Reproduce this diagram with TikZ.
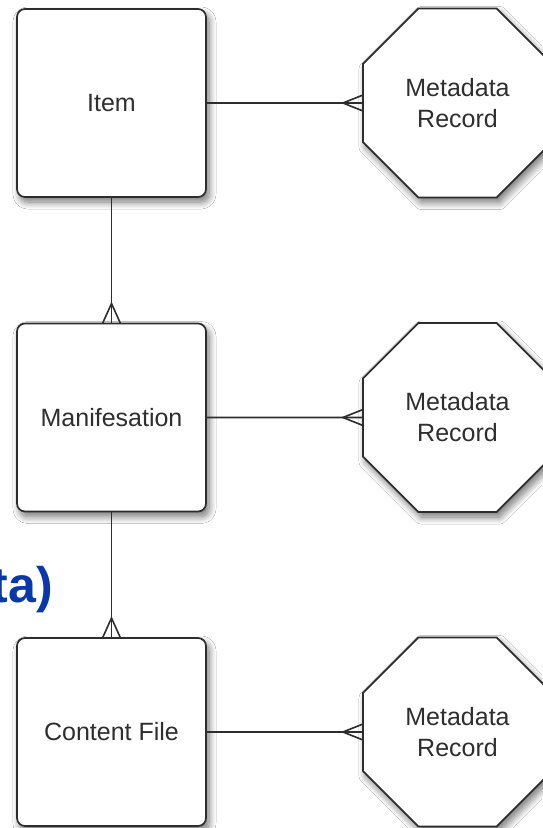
\documentclass[tikz,border=0pt]{standalone}
\usepackage{fontspec}
\setmainfont{Liberation Sans}
\usetikzlibrary{shapes.geometric,shadows.blur,calc}
\definecolor{edgegray}{RGB}{45,45,45}
\definecolor{titleblue}{RGB}{8,56,170}
\begin{document}
\begin{tikzpicture}[x=1pt,y=-1pt,
  softshadow/.style={blur shadow={shadow xshift=3pt, shadow yshift=-5pt, shadow blur radius=7pt, shadow opacity=55, shadow blur steps=12}},
  entity/.style={draw=edgegray, line width=1.7pt, fill=white, rounded corners=8pt,
    minimum width=189pt, minimum height=188pt, inner sep=0pt, outer sep=0pt,
    font=\fontsize{25}{31}\selectfont, text=black!82, softshadow},
  record/.style={draw=edgegray, line width=1.7pt, fill=white, regular polygon, regular polygon sides=8,
    minimum size=204.6pt, inner sep=0pt, outer sep=0pt, align=center,
    font=\fontsize{25}{31}\selectfont, text=black!82, softshadow},
  conn/.style={draw=edgegray, line width=1.6pt, line join=miter},
]
\useasboundingbox (0,0) rectangle (542,828);
\fill[white] (0,0) rectangle (542,828);

% blue title fragment
\node[anchor=base east, inner sep=0pt, text=titleblue, font=\bfseries\fontsize{50}{60}\selectfont] (ttl) at (53,602) {ta)};

% entities
\node[entity] (i1) at (111.5,103) {Item};
\node[entity] (m2) at (111.5,417.5) {Manifesation};
\node[entity] (c3) at (111.5,732) {Content File};

% metadata records
\node[record] (r1) at (457.5,103) {Metadata\\Record};
\node[record] (r2) at (457.5,417.5) {Metadata\\Record};
\node[record] (r3) at (457.5,732) {Metadata\\Record};

% vertical connectors with crow's feet
\draw[conn] (i1.south) -- (m2.north);
\draw[conn] ($(m2.north)+(-9,0)$) -- ($(m2.north)+(0,-20)$) -- ($(m2.north)+(9,0)$);
\draw[conn] (m2.south) -- (c3.north);
\draw[conn] ($(c3.north)+(-9,0)$) -- ($(c3.north)+(0,-20)$) -- ($(c3.north)+(9,0)$);

% horizontal connectors with crow's feet
\draw[conn] (i1.east) -- (r1.west);
\draw[conn] ($(r1.west)+(0,-8)$) -- ($(r1.west)+(-20,0)$) -- ($(r1.west)+(0,8)$);
\draw[conn] (m2.east) -- (r2.west);
\draw[conn] ($(r2.west)+(0,-8)$) -- ($(r2.west)+(-20,0)$) -- ($(r2.west)+(0,8)$);
\draw[conn] (c3.east) -- (r3.west);
\draw[conn] ($(r3.west)+(0,-8)$) -- ($(r3.west)+(-20,0)$) -- ($(r3.west)+(0,8)$);
\end{tikzpicture}
\end{document}
